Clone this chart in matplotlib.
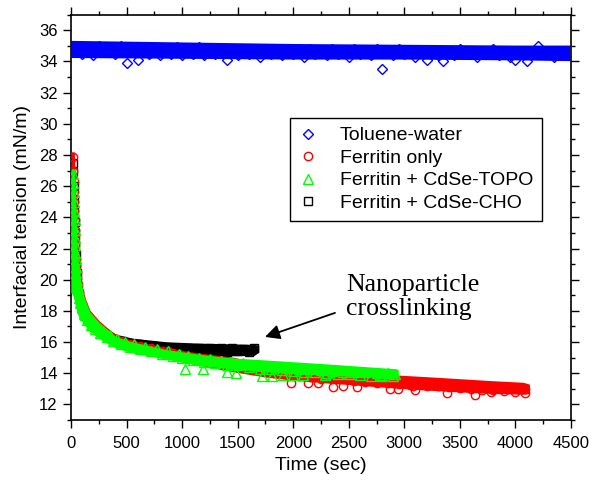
import matplotlib
matplotlib.use("Agg")
import matplotlib.pyplot as plt
from matplotlib.ticker import MultipleLocator

plt.rcParams['font.family'] = ['Liberation Sans', 'DejaVu Sans']

BLUE, RED, GREEN = '#0000FF', '#FF0000', '#00FF00'

# Toluene-water (blue diamonds)
tol_t = [0, 50, 100, 150, 200, 250, 300, 350, 400, 450, 500, 550, 600, 650, 700, 750,
         800, 850, 900, 950, 1000, 1050, 1100, 1150, 1200, 1250, 1300, 1350, 1400, 1450,
         1500, 1550, 1600, 1650, 1700, 1750, 1800, 1850, 1900, 1950, 2000, 2050, 2100,
         2150, 2200, 2250, 2300, 2350, 2400, 2450, 2500, 2550, 2600, 2650, 2700, 2750,
         2800, 2850, 2900, 2950, 3000, 3050, 3100, 3150, 3200, 3250, 3300, 3350, 3400,
         3450, 3500, 3550, 3600, 3650, 3700, 3750, 3800, 3850, 3900, 3950, 4000, 4050,
         4100, 4150, 4200, 4250, 4300, 4350, 4400, 4450]
tol_y = [34.6, 35.0, 34.5, 34.9, 34.4, 35.0, 34.6, 34.9, 34.5, 35.0, 33.9, 34.8, 34.1,
         34.9, 34.5, 34.9, 34.4, 34.8, 34.5, 34.9, 34.4, 34.8, 34.5, 34.9, 34.4, 34.8,
         34.5, 34.8, 34.1, 34.8, 34.4, 34.8, 34.5, 34.8, 34.3, 34.8, 34.5, 34.8, 34.4,
         34.7, 34.5, 34.8, 34.3, 34.8, 34.5, 34.7, 34.4, 34.8, 34.5, 34.7, 34.3, 34.8,
         34.5, 34.7, 34.4, 34.8, 33.5, 34.7, 34.4, 34.8, 34.5, 34.7, 34.3, 34.7, 34.1,
         34.7, 34.4, 34.0, 34.7, 34.4, 34.8, 34.5, 34.7, 34.3, 34.7, 34.5, 34.8, 34.4,
         34.7, 34.3, 34.1, 34.7, 34.0, 34.6, 35.0, 34.5, 34.7, 34.3, 34.7, 34.4]

# Ferritin only (red circles)
fer_t = [20, 22, 24, 26, 28, 30, 32, 34, 36, 38, 40, 43, 46, 50, 55, 60, 70, 80, 90, 100,
         115, 130, 150, 170, 190, 210, 235, 260, 290, 320, 350, 380, 410, 450, 490, 530,
         570, 620, 670, 720, 770, 820, 870, 920, 970, 1000, 1050, 1100, 1150, 1200, 1250,
         1300, 1350, 1400, 1450, 1500, 1550, 1600, 1650, 1700, 1750, 1800, 1850, 1900,
         1950, 1980, 2000, 2050, 2100, 2136, 2150, 2200, 2226, 2250, 2300, 2350, 2361,
         2400, 2450, 2500, 2550, 2577, 2600, 2650, 2700, 2750, 2800, 2850, 2871, 2900,
         2940, 2950, 3000, 3050, 3080, 3100, 3150, 3200, 3250, 3300, 3350, 3384, 3400,
         3450, 3500, 3550, 3600, 3636, 3650, 3700, 3750, 3780, 3800, 3850, 3900, 3950,
         4000, 4050, 4086, 4090]
fer_y = [27.9, 27.0, 26.3, 25.6, 25.0, 24.4, 23.8, 23.2, 22.7, 22.2, 21.8, 21.3, 20.9,
         20.5, 20.1, 19.7, 19.2, 18.9, 18.6, 18.3, 18.0, 17.8, 17.5, 17.3, 17.1, 17.0,
         16.85, 16.7, 16.55, 16.45, 16.3, 16.25, 16.15, 16.05, 15.95, 15.9, 15.8, 15.75,
         15.65, 15.6, 15.5, 15.45, 15.4, 15.3, 15.25, 15.05, 14.95, 15.0, 14.85, 14.9,
         14.75, 14.8, 14.6, 14.7, 14.5, 14.55, 14.4, 14.45, 14.3, 14.35, 14.15, 14.25,
         14.05, 14.1, 13.9, 13.37, 14.0, 13.8, 13.9, 13.35, 13.75, 13.85, 13.35, 13.65,
         13.8, 13.6, 13.1, 13.75, 13.15, 13.7, 13.5, 13.1, 13.65, 13.45, 13.6, 13.4,
         13.55, 13.35, 13.0, 13.5, 13.0, 13.3, 13.45, 13.25, 13.15, 12.9, 13.4, 13.2,
         13.35, 13.15, 13.3, 12.75, 13.1, 13.3, 13.05, 13.25, 13.0, 12.6, 13.2, 12.95,
         13.15, 12.8, 12.9, 13.1, 12.85, 13.05, 12.8, 13.0, 12.75, 13.0]

# Ferritin + CdSe-TOPO (green triangles)
topo_t = [18, 21, 24, 27, 30, 32, 34, 36, 38, 40, 42, 45, 48, 52, 56, 60, 68, 76, 85,
          100, 115, 130, 145, 160, 180, 200, 220, 240, 265, 290, 320, 350, 380, 410, 450,
          490, 530, 570, 620, 670, 720, 770, 820, 870, 920, 970, 1000, 1026, 1050, 1100,
          1150, 1188, 1200, 1250, 1300, 1350, 1400, 1404, 1450, 1485, 1500, 1550, 1600,
          1650, 1700, 1719, 1750, 1800, 1810, 1850, 1900, 1908, 1950, 1998, 2000, 2050,
          2088, 2100, 2150, 2200, 2250, 2286, 2300, 2350, 2400, 2450, 2500, 2550, 2600,
          2650, 2700, 2750, 2781, 2800, 2850, 2900, 2916]
topo_y = [26.8, 26.2, 25.6, 25.0, 24.4, 23.8, 23.2, 22.7, 22.2, 21.7, 21.3, 20.8, 20.4,
          20.0, 19.7, 19.4, 19.1, 18.8, 18.5, 18.2, 17.8, 17.75, 17.4, 17.4, 17.1, 17.15,
          16.85, 16.9, 16.6, 16.7, 16.35, 16.45, 16.1, 16.2, 15.9, 16.0, 15.7, 15.85,
          15.55, 15.7, 15.4, 15.55, 15.25, 15.4, 15.1, 15.25, 15.0, 14.27, 15.1, 14.85,
          15.0, 14.25, 14.75, 14.9, 14.65, 14.8, 14.55, 14.1, 14.7, 14.0, 14.5, 14.65,
          14.4, 14.55, 14.3, 13.82, 14.45, 14.25, 13.85, 14.4, 14.2, 13.9, 14.35, 13.9,
          14.15, 14.3, 13.9, 14.1, 14.25, 14.05, 14.2, 13.9, 14.0, 14.15, 13.95, 14.1,
          13.95, 14.1, 13.9, 14.05, 13.85, 14.0, 13.9, 13.85, 14.0, 13.85, 13.95]

# Ferritin + CdSe-CHO (black squares)
cho_t = [18, 22, 25, 28, 31, 34, 37, 40, 44, 48, 53, 58, 65, 75, 85, 100, 120, 140, 160,
         185, 210, 240, 270, 300, 340, 380, 420, 460, 500, 550, 600, 650, 700, 750, 800,
         850, 900, 950, 1000, 1050, 1100, 1150, 1200, 1250, 1300, 1350, 1400, 1450, 1500,
         1550, 1600, 1650]
cho_y = [27.5, 26.9, 26.0, 25.2, 24.5, 23.7, 23.0, 22.3, 21.6, 21.0, 20.4, 19.9, 19.4,
         19.0, 18.6, 18.3, 17.9, 17.6, 17.4, 17.15, 16.95, 16.8, 16.65, 16.5, 16.35, 16.2,
         16.1, 16.05, 15.95, 15.9, 15.85, 15.8, 15.65, 15.75, 15.55, 15.7, 15.5, 15.65,
         15.45, 15.65, 15.45, 15.6, 15.4, 15.6, 15.4, 15.6, 15.35, 15.6, 15.4, 15.55,
         15.35, 15.6]

tol_band_t = [0, 1000, 2000, 3000, 4000, 4490]
tol_band_hi = [35.35, 35.25, 35.15, 35.1, 35.05, 35.05]
tol_band_lo = [34.25, 34.2, 34.15, 34.15, 34.1, 34.05]

fer_band_t = [0, 30, 45, 55, 70, 90, 120, 170, 255, 405, 555, 855, 1155, 1455, 1755,
              2000, 2300, 2600, 2900, 3200, 3500, 3800, 4071, 4126]
fer_band_hi = [28.2, 28.2, 24.9, 22.3, 21.0, 19.9, 18.95, 18.05, 17.35, 16.45, 16.1, 15.62,
               15.3, 15.03, 14.6, 14.45, 14.25, 14.05, 13.9, 13.78, 13.65, 13.52, 13.42, 13.3]
fer_band_lo = [19.3, 18.9, 18.3, 18.0, 17.7, 17.5, 17.2, 16.8, 16.3, 15.7, 15.35, 14.95,
               14.5, 14.1, 13.75, 13.55, 13.38, 13.22, 13.06, 12.92, 12.8, 12.7, 12.65, 12.7]

topo_band_t = [0, 30, 45, 55, 70, 90, 120, 170, 255, 405, 555, 855, 1155, 1455, 1755,
               2300, 2900, 2945]
topo_band_hi = [27.1, 27.1, 24.6, 22.1, 20.8, 19.8, 18.85, 17.95, 17.25, 16.35, 16.0, 15.52,
                15.22, 14.98, 14.85, 14.6, 14.3, 14.25]
topo_band_lo = [19.2, 18.8, 18.2, 17.9, 17.6, 17.4, 17.1, 16.7, 16.2, 15.6, 15.3, 14.9,
                14.5, 14.27, 14.08, 13.88, 13.68, 13.68]

cho_band_t = [0, 30, 45, 55, 70, 90, 120, 170, 255, 405, 555, 855, 1155, 1455, 1650, 1690]
cho_band_hi = [27.8, 27.8, 24.5, 22.0, 20.7, 19.7, 18.75, 17.85, 17.15, 16.5, 16.25,
               16.02, 15.93, 15.88, 15.85, 15.8]
cho_band_lo = [19.4, 19.0, 18.4, 18.1, 17.8, 17.6, 17.3, 16.9, 16.4, 15.8, 15.45, 15.2,
               15.15, 15.12, 15.15, 15.35]

fig = plt.figure(figsize=(5.91, 4.82), dpi=100)
ax = fig.add_axes([0.1201, 0.1286, 0.846, 0.841])

series = [
    (tol_t, tol_y, tol_band_t, tol_band_hi, tol_band_lo, 'D', 5.5, BLUE, 'Toluene-water'),
    (cho_t, cho_y, cho_band_t, cho_band_hi, cho_band_lo, 's', 5.5, 'black', 'Ferritin + CdSe-CHO'),
    (fer_t, fer_y, fer_band_t, fer_band_hi, fer_band_lo, 'o', 6, RED, 'Ferritin only'),
    (topo_t, topo_y, topo_band_t, topo_band_hi, topo_band_lo, '^', 6.5, GREEN, 'Ferritin + CdSe-TOPO'),
]
handles = {}
for z, (t, y, bt, bhi, blo, mk, ms, col, lab) in enumerate(series):
    ax.fill_between(bt, blo, bhi, color=col, lw=0, zorder=2 + 2 * z)
    h, = ax.plot(t, y, mk, ls='none', ms=ms, mfc='none', mec=col, mew=1.0,
                 label=lab, zorder=3 + 2 * z)
    handles[lab] = h

ax.set_xlim(0, 4500)
ax.set_ylim(11, 37)
ax.xaxis.set_major_locator(MultipleLocator(500))
ax.xaxis.set_minor_locator(MultipleLocator(250))
ax.yaxis.set_minor_locator(MultipleLocator(1))
ax.set_yticks(range(12, 37, 2))
ax.tick_params(which='both', direction='out', top=True, right=True, width=1.0)
ax.tick_params(which='major', length=5.5, labelsize=12, pad=4)
ax.tick_params(axis='x', which='major', pad=6)
ax.tick_params(which='minor', length=3)
for s in ax.spines.values():
    s.set_linewidth(1.2)

ax.set_xlabel('Time (sec)', fontsize=14, labelpad=4)
ax.set_ylabel('Interfacial tension (mN/m)', fontsize=14, labelpad=6)

order = ['Toluene-water', 'Ferritin only', 'Ferritin + CdSe-TOPO', 'Ferritin + CdSe-CHO']
leg = ax.legend([handles[k] for k in order], order,
                loc='upper left', bbox_to_anchor=(0.438, 0.745), fontsize=14,
                frameon=True, fancybox=False, edgecolor='black', framealpha=1,
                handlelength=1.0, handletextpad=1.1, borderpad=0.45,
                labelspacing=0.25, borderaxespad=0)
leg.get_frame().set_linewidth(1.0)
leg.set_zorder(20)

ax.annotate('', xy=(1746, 16.33), xytext=(2376, 17.87),
            arrowprops=dict(arrowstyle='-|>', mutation_scale=22, lw=1.3,
                            color='black', shrinkA=0, shrinkB=0), zorder=20)
ax.text(2475, 20.35, 'Nanoparticle\ncrosslinking', family=['Liberation Serif'],
        fontsize=18.5, ha='left', va='top', linespacing=1.12, zorder=20)

fig.savefig('out.png', dpi=100)
